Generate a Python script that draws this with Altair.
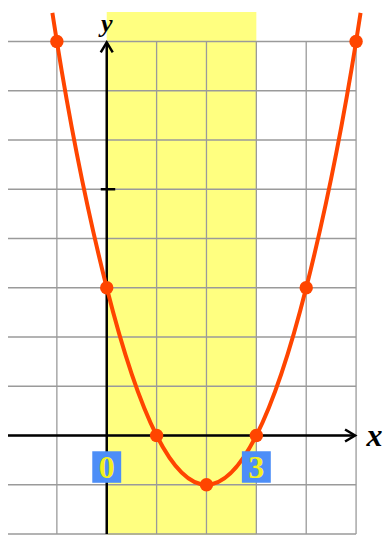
import altair as alt
import pandas as pd

# grid lines
grid_x = [-2, -1, 0, 1, 2, 3, 4, 5]
grid_y = [-2, -1, 0, 1, 2, 3, 4, 5, 6, 7, 8]

# marked points on the parabola
point_x = [-1, 0, 1, 2, 3, 4, 5]
point_y = [8, 3, 0, -1, 0, 3, 8]

# curve (points plus where the drawn curve ends at the top)
curve_x = [-1.09, -1, 0, 1, 2, 3, 4, 5, 5.09]
curve_y = [8.58, 8, 3, 0, -1, 0, 3, 8, 8.58]

# highlighted band
band_x = [0, 3]
band_y = [-2.02, 8.6]

# labels under the x axis
label_text = ["0", "3"]
label_x = [0, 3]
label_y = -0.64

# y axis tick
tick_y = 5

XD = [-1.98, 5.56]
YD = [-2.02, 8.68]
xs = alt.Scale(domain=XD, nice=False, zero=False)
ys = alt.Scale(domain=YD, nice=False, zero=False)

def X(f, **k):
    return alt.X(f, type="quantitative", scale=xs, axis=None, **k)

def Y(f, **k):
    return alt.Y(f, type="quantitative", scale=ys, axis=None, **k)

band_df = pd.DataFrame({"x0": [band_x[0]], "x1": [band_x[1]], "y0": [band_y[0]], "y1": [band_y[1]]})
band = alt.Chart(band_df).mark_rect(color="#ffff80").encode(
    x=X("x0"), x2="x1", y=Y("y0"), y2="y1")

vgrid_df = pd.DataFrame({"x": grid_x, "y0": [grid_y[0]] * len(grid_x), "y1": [grid_y[-1]] * len(grid_x)})
vgrid = alt.Chart(vgrid_df).mark_rule(color="#9a9a9a", strokeWidth=1.3).encode(
    x=X("x"), y=Y("y0"), y2="y1")

hgrid_df = pd.DataFrame({"y": grid_y, "x0": [grid_x[0]] * len(grid_y), "x1": [grid_x[-1]] * len(grid_y)})
hgrid = alt.Chart(hgrid_df).mark_rule(color="#9a9a9a", strokeWidth=1.3).encode(
    y=Y("y"), x=X("x0"), x2="x1")

xaxis_df = pd.DataFrame({"x0": [grid_x[0]], "x1": [4.98], "y": [0]})
xaxis = alt.Chart(xaxis_df).mark_rule(color="black", strokeWidth=2.5).encode(
    x=X("x0"), x2="x1", y=Y("y"))

yaxis_df = pd.DataFrame({"y0": [grid_y[0]], "y1": [7.98], "x": [0]})
yaxis = alt.Chart(yaxis_df).mark_rule(color="black", strokeWidth=2.5).encode(
    y=Y("y0"), y2="y1", x=X("x"))

tick_df = pd.DataFrame({"x0": [-0.12], "x1": [0.17], "y": [tick_y]})
tick = alt.Chart(tick_df).mark_rule(color="black", strokeWidth=2.5).encode(
    x=X("x0"), x2="x1", y=Y("y"))

arrow_df = pd.DataFrame({"x": [4.98, 0], "y": [0, 7.98], "ang": [0, 270]})
arrows = alt.Chart(arrow_df).mark_point(
    shape="M-1,-0.6L0,0L-1,0.6", filled=False, stroke="black", strokeWidth=2.5,
    size=400, opacity=1, strokeJoin="miter"
).encode(x=X("x"), y=Y("y"), angle=alt.Angle("ang:Q", scale=None))

curve_df = pd.DataFrame({"x": curve_x, "y": curve_y})
curve = alt.Chart(curve_df).mark_line(color="#ff4500", strokeWidth=4, interpolate="monotone").encode(
    x=X("x"), y=Y("y"))

pts_df = pd.DataFrame({"x": point_x, "y": point_y})
pts = alt.Chart(pts_df).mark_circle(color="#ff4500", size=180, opacity=1).encode(
    x=X("x"), y=Y("y"))

lab_df = pd.DataFrame({"t": label_text, "x": label_x, "x0": [v - 0.29 for v in label_x],
                       "x1": [v + 0.29 for v in label_x],
                       "y": [label_y] * 2, "y0": [label_y - 0.32] * 2, "y1": [label_y + 0.32] * 2})
boxes = alt.Chart(lab_df).mark_rect(color="#4d8ef7").encode(
    x=X("x0"), x2="x1", y=Y("y0"), y2="y1")
labs = alt.Chart(lab_df).mark_text(
    font="Liberation Serif", fontWeight="bold", fontSize=32, color="#f2f020",
    baseline="middle", align="center", dy=1
).encode(x=X("x"), y=Y("y"), text="t")

axlab_df = pd.DataFrame({"t": ["x", "y"], "x": [5.37, 0], "y": [0, 8.19]})
xlab = alt.Chart(axlab_df.iloc[[0]]).mark_text(
    font="Liberation Serif", fontWeight="bold", fontStyle="italic", fontSize=32, color="black",
    baseline="middle", align="center"
).encode(x=X("x"), y=Y("y"), text="t")
ylab = alt.Chart(axlab_df.iloc[[1]]).mark_text(
    font="Liberation Serif", fontWeight="bold", fontStyle="italic", fontSize=26, color="black",
    baseline="alphabetic", align="center"
).encode(x=X("x"), y=Y("y"), text="t")

chart = alt.layer(
    band, vgrid, hgrid, xaxis, yaxis, tick, arrows, curve, pts, boxes, labs, xlab, ylab
).properties(
    width=376, height=527, padding=0, autosize=alt.AutoSizeParams(type="none")
).configure_view(stroke=None)

chart.save("out.html", embed_options={"renderer": "svg", "actions": False})
